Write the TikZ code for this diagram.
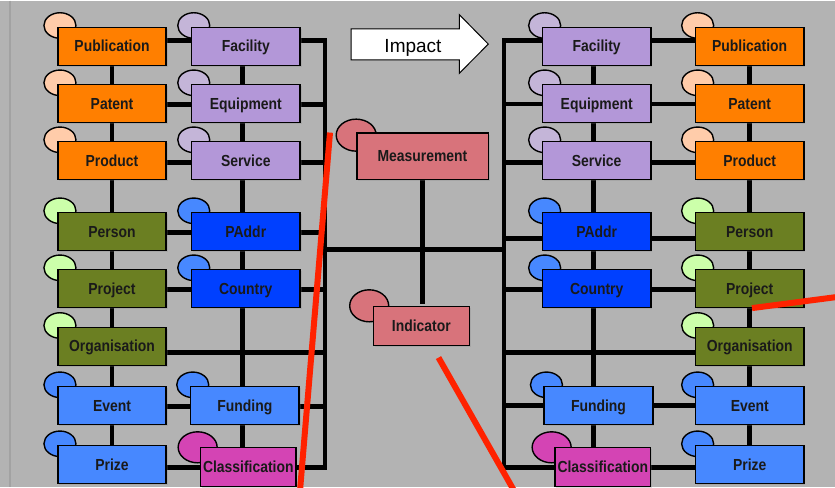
\documentclass[tikz,border=0pt]{standalone}
\usepackage{fontspec}
\setmainfont{Liberation Sans}
\newfontfamily\boxfont[FakeStretch=0.87]{Liberation Sans Bold}
\usetikzlibrary{shadows,calc,shapes.geometric}
\pgfdeclarelayer{back}
\pgfdeclarelayer{lines}
\pgfdeclarelayer{ovals}
\pgfsetlayers{back,lines,ovals,main}
\definecolor{bgC}{HTML}{B3B3B3}
\definecolor{edgeC}{HTML}{A2A2A2}
\definecolor{orangeC}{HTML}{FF7F00}
\definecolor{peachC}{HTML}{FFCCAA}
\definecolor{purpleC}{HTML}{B397D8}
\definecolor{lavC}{HTML}{C4B5D8}
\definecolor{oliveC}{HTML}{6B7F22}
\definecolor{lgreenC}{HTML}{CCFFAA}
\definecolor{blueC}{HTML}{0040FF}
\definecolor{lblueC}{HTML}{4788FF}
\definecolor{magC}{HTML}{D444B4}
\definecolor{pinkC}{HTML}{D8737B}
\definecolor{redC}{HTML}{FF2200}
\definecolor{txtC}{HTML}{1A1A1A}
\tikzset{
  box/.style={draw=black, line width=1.6pt, minimum width=108.5pt, minimum height=38pt,
    inner sep=0pt, text=txtC, font=\boxfont\fontsize{16}{16}\selectfont,
    text height=11.6pt, text depth=0.8pt,
    drop shadow={shadow xshift=1.5pt, shadow yshift=-1.5pt, opacity=0.25}},
  oval/.style={draw=black, line width=1.4pt, ellipse, minimum width=32pt, minimum height=25.5pt, inner sep=0pt},
  bigoval/.style={oval, minimum width=39pt, minimum height=31pt},
  conn/.style={line width=4.6pt, black, line cap=rect},
  slash/.style={line width=6pt, redC},
}
\newcommand\entity[6]{%
  \node[box,fill=#4] (#1) at (#2,#3) {#6};
  \begin{pgfonlayer}{ovals}
  \node[oval,fill=#5] (#1o) at ([shift={(3,-1)}]#1.north west) {};
  \end{pgfonlayer}}
\begin{document}
\begin{tikzpicture}[x=1pt,y=-1pt]
\begin{pgfonlayer}{back}
\fill[bgC] (0,0) rectangle (835,486);
\draw[edgeC, line width=1.2pt] (10,0) -- (10,486);
\end{pgfonlayer}
\useasboundingbox (0,0) rectangle (835,486);

% ---------- left group ----------
\entity{pubA}{112}{45.7}{orangeC}{peachC}{Publication}
\entity{patA}{112}{103}{orangeC}{peachC}{Patent}
\entity{proA}{112}{160}{orangeC}{peachC}{Product}
\entity{perA}{112}{231}{oliveC}{lgreenC}{Person}
\entity{prjA}{112}{288}{oliveC}{lgreenC}{Project}
\entity{orgA}{112}{345.7}{oliveC}{lgreenC}{Organisation}
\entity{evtA}{112}{405}{lblueC}{lblueC}{Event}
\entity{przA}{112}{464}{lblueC}{lblueC}{Prize}
\entity{facA}{245.8}{45.7}{purpleC}{lavC}{Facility}
\entity{equA}{245.8}{103}{purpleC}{lavC}{Equipment}
\entity{serA}{245.8}{160}{purpleC}{lavC}{Service}
\entity{padA}{245.8}{231}{blueC}{lblueC}{PAddr}
\entity{couA}{245.8}{288}{blueC}{lblueC}{Country}
\entity{funA}{244.8}{405}{lblueC}{lblueC}{Funding}
\node[box,fill=magC,minimum width=95.3pt,minimum height=39pt] (clsA) at (248.3,466.5) {Classification};
\begin{pgfonlayer}{ovals}
\node[bigoval,fill=magC] (clsAo) at ([shift={(-2.2,0.5)}]clsA.north west) {};
\end{pgfonlayer}

% ---------- right group ----------
\entity{facB}{596.7}{45.7}{purpleC}{lavC}{Facility}
\entity{equB}{596.7}{103}{purpleC}{lavC}{Equipment}
\entity{serB}{596.7}{160}{purpleC}{lavC}{Service}
\entity{padB}{596.7}{231}{blueC}{lblueC}{PAddr}
\entity{couB}{596.7}{288}{blueC}{lblueC}{Country}
\entity{funB}{598.5}{405}{lblueC}{lblueC}{Funding}
\node[box,fill=magC,minimum width=95.7pt,minimum height=39pt] (clsB) at (602.8,466.5) {Classification};
\begin{pgfonlayer}{ovals}
\node[bigoval,fill=magC] (clsBo) at ([shift={(-2.5,0.5)}]clsB.north west) {};
\end{pgfonlayer}
\entity{pubB}{749.7}{45.7}{orangeC}{peachC}{Publication}
\entity{patB}{749.7}{103}{orangeC}{peachC}{Patent}
\entity{proB}{749.7}{160}{orangeC}{peachC}{Product}
\entity{perB}{749.7}{231}{oliveC}{lgreenC}{Person}
\entity{prjB}{749.7}{288}{oliveC}{lgreenC}{Project}
\entity{orgB}{749.7}{345.7}{oliveC}{lgreenC}{Organisation}
\entity{evtB}{749.7}{405}{lblueC}{lblueC}{Event}
\entity{przB}{749.7}{464}{lblueC}{lblueC}{Prize}

% ---------- centre ----------
\node[box,fill=pinkC,minimum width=131.6pt,minimum height=46.3pt] (meas) at (422.5,155.8) {Measurement};
\node[box,fill=pinkC,minimum width=96pt,minimum height=39pt] (ind) at (421.3,325.5) {Indicator};
\begin{pgfonlayer}{ovals}
\node[oval,fill=pinkC,minimum width=40pt,minimum height=32pt] (measo) at ([shift={(0.3,2.7)}]meas.north west) {};
\node[oval,fill=pinkC,minimum width=39pt,minimum height=32pt] (indo) at ([shift={(-3.3,0)}]ind.north west) {};
\end{pgfonlayer}

% Impact arrow
\draw[fill=white, line width=1pt, line join=miter]
  (351,28.3) -- (459.3,28.3) -- (459.3,14) -- (488.3,43.5) -- (459.3,72.7) -- (459.3,59.3) -- (351,59.3) -- cycle;
\node[anchor=base, font=\fontsize{19}{19}\selectfont, inner sep=0pt] (impact) at (413,51.7) {Impact};

% ---------- connectors ----------
\coordinate (lrail) at (325,0);
\coordinate (rrail) at (504,0);
\coordinate (lrb) at (325,467);
\coordinate (rrb) at (504,467);
\coordinate (cl) at (325,249);
\coordinate (cr) at (504,249);
\begin{pgfonlayer}{lines}
% left verticals
\draw[conn] (pubA.center) -- (przA.center);
\draw[conn] ([xshift=-3.5pt]facA.center) -- ([xshift=-3.5pt]facA.center |- clsA.center);
% left rows
\draw[conn] ([yshift=5.7pt]pubA.center) -| (lrb);
\draw[conn] ([yshift=-1pt]patA.center) -- ([yshift=-1pt]patA.center -| lrail);
\draw[conn] ([yshift=-2pt]proA.center) -- ([yshift=-2pt]proA.center -| lrail);
\draw[conn] ([yshift=-1pt]perA.center) -- ([yshift=-1pt]perA.center -| lrail);
\draw[conn] ([yshift=-1pt]prjA.center) -- ([yshift=-1pt]prjA.center -| lrail);
\draw[conn] ([yshift=-6.3pt]orgA.center) -- ([yshift=-6.3pt]orgA.center -| lrail);
\draw[conn] ([yshift=-1pt]evtA.center) -- ([yshift=-1pt]evtA.center -| lrail);
\draw[conn] ([yshift=-3pt]przA.center) -- (lrb);
% right verticals
\draw[conn] (pubB.center) -- (przB.center);
\draw[conn] ([xshift=-3.4pt]facB.center) -- ([xshift=-3.4pt]facB.center |- clsB.center);
% right rows
\draw[conn] ([yshift=5.7pt]pubB.center) -| (rrb);
\draw[conn] ([yshift=-0.5pt]patB.center) -- ([yshift=-0.5pt]patB.center -| rrail);
\draw[conn] ([yshift=-2pt]proB.center) -- ([yshift=-2pt]proB.center -| rrail);
\draw[conn] ([yshift=-7pt]perB.center) -- ([yshift=-7pt]perB.center -| rrail);
\draw[conn] ([yshift=-1pt]prjB.center) -- ([yshift=-1pt]prjB.center -| rrail);
\draw[conn] ([yshift=-6.3pt]orgB.center) -- ([yshift=-6.3pt]orgB.center -| rrail);
\draw[conn] (evtB.center) -- (evtB.center -| rrail);
\draw[conn] ([yshift=-3pt]przB.center) -- (rrb);
% centre
\draw[conn] (cl) -- (cr);
\draw[conn] (meas.south) -- ([yshift=4pt]meas.south |- ind.north);
\end{pgfonlayer}

% red strokes
\draw[slash] (330,132) -- (300,490);
\draw[slash] (438.5,357) -- (514,490);
\draw[slash] (752,307.5) -- (840,296);
\end{tikzpicture}
\end{document}
